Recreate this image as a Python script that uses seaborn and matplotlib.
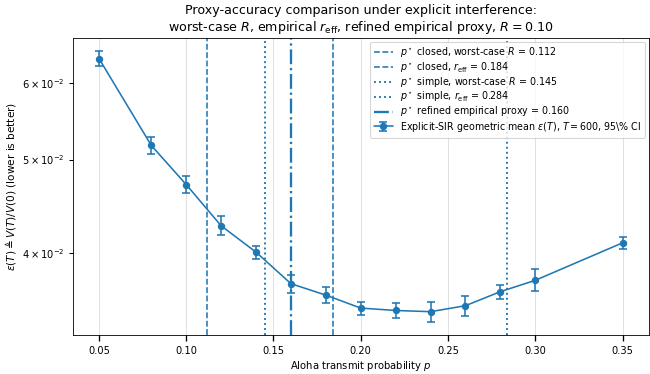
import matplotlib
matplotlib.use("Agg")
import matplotlib.pyplot as plt
from matplotlib.container import ErrorbarContainer
import seaborn as sns

# Aloha transmit probabilities and measured geometric-mean error with 95% CI half-widths
p_values = [0.05, 0.08, 0.10, 0.12, 0.14, 0.16, 0.18, 0.20, 0.22, 0.24, 0.26, 0.28, 0.30, 0.35]
eps_mean = [0.0636, 0.0517, 0.0471, 0.0427, 0.0401, 0.0372, 0.0362, 0.0351, 0.0349, 0.0348,
            0.0353, 0.0365, 0.0375, 0.0410]
eps_ci = [0.0011, 0.0010, 0.00093, 0.00097, 0.00064, 0.00078, 0.00071, 0.00055, 0.0006, 0.00084,
          0.00083, 0.00061, 0.00098, 0.0006]

# Proxy predictions for the optimal transmit probability
p_closed_worst = 0.112
p_closed_reff = 0.184
p_simple_worst = 0.145
p_simple_reff = 0.284
p_refined = 0.160

sns.set_theme(style="white")
plt.rcParams.update({
    "font.family": ["DejaVu Sans"],
    "axes.edgecolor": "black",
    "axes.linewidth": 0.8,
    "xtick.bottom": True,
    "ytick.left": True,
    "xtick.color": "black",
    "ytick.color": "black",
    "axes.labelcolor": "black",
    "text.color": "black",
})

DPI = 76
fig, ax = plt.subplots(figsize=(650 / DPI, 374 / DPI), dpi=DPI)
fig.subplots_adjust(left=0.112, right=0.998, top=0.899, bottom=0.103)

color = "#1f77b4"
series_label = r"Explicit-SIR geometric mean $\varepsilon(T)$, $T = 600$, 95\% CI"

sns.lineplot(x=p_values, y=eps_mean, ax=ax, color=color, marker="o", markersize=7,
             markeredgewidth=0, linewidth=1.5, legend=False)
series_line = ax.lines[-1]
eb = ax.errorbar(p_values, eps_mean, yerr=eps_ci, fmt="none", ecolor=color,
                 elinewidth=1.5, capsize=3.5, capthick=1.5)

vlines = [
    ax.axvline(p_closed_worst, color=color, linestyle="--", linewidth=1.5,
               label=rf"$p^\star$ closed, worst-case $R$ = {p_closed_worst:.3f}"),
    ax.axvline(p_closed_reff, color=color, linestyle="--", linewidth=1.5,
               label=rf"$p^\star$ closed, $r_{{\rm eff}}$ = {p_closed_reff:.3f}"),
    ax.axvline(p_simple_worst, color=color, linestyle=":", linewidth=1.8,
               label=rf"$p^\star$ simple, worst-case $R$ = {p_simple_worst:.3f}"),
    ax.axvline(p_simple_reff, color=color, linestyle=":", linewidth=1.8,
               label=rf"$p^\star$ simple, $r_{{\rm eff}}$ = {p_simple_reff:.3f}"),
    ax.axvline(p_refined, color=color, linestyle="-.", linewidth=2.2,
               label=rf"$p^\star$ refined empirical proxy = {p_refined:.3f}"),
]

series_handle = ErrorbarContainer((series_line, eb.lines[1], eb.lines[2]),
                                  has_xerr=False, has_yerr=True)

ax.set_yscale("log")
ax.grid(True, axis="x", color="#cccccc", alpha=0.6, linewidth=1)
ax.grid(False, axis="y")
ax.set_axisbelow(True)

ax.set_xlabel(r"Aloha transmit probability $p$", fontsize=9.5, labelpad=3)
ax.set_ylabel(r"$\varepsilon(T) \triangleq V(T)/V(0)$ (lower is better)", fontsize=10)
ax.set_title("Proxy-accuracy comparison under explicit interference:\n"
             r"worst-case $R$, empirical $r_{\rm eff}$, refined empirical proxy, $R = 0.10$",
             fontsize=12)
ax.tick_params(axis="both", which="both", labelsize=9.3)

ax.legend(handles=vlines + [series_handle],
          labels=[l.get_label() for l in vlines] + [series_label],
          loc="upper right", fontsize=9, frameon=True, framealpha=0.8,
          edgecolor="#cccccc", fancybox=True, labelspacing=0.05, borderaxespad=0.4)

fig.savefig("out.png", dpi=DPI)
